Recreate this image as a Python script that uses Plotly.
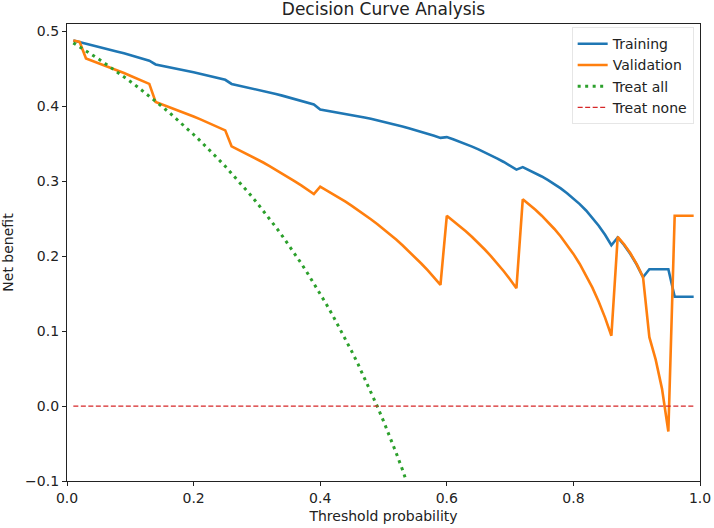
import plotly.graph_objects as go

thresholds = [round(0.01 * i, 2) for i in range(1, 100)]

training_nb = [
    0.4880, 0.4860, 0.4840, 0.4819, 0.4798, 0.4776, 0.4754, 0.4731, 0.4708, 0.4684,
    0.4660, 0.4635, 0.4610, 0.4560, 0.4544, 0.4527, 0.4510, 0.4492, 0.4474, 0.4455,
    0.4436, 0.4417, 0.4397, 0.4376, 0.4355, 0.4300, 0.4282, 0.4264, 0.4246, 0.4227,
    0.4207, 0.4187, 0.4166, 0.4144, 0.4122, 0.4099, 0.4076, 0.4052, 0.4026, 0.3960,
    0.3946, 0.3932, 0.3917, 0.3901, 0.3885, 0.3869, 0.3852, 0.3834, 0.3815, 0.3796,
    0.3776, 0.3755, 0.3733, 0.3710, 0.3687, 0.3662, 0.3636, 0.3609, 0.3580, 0.3590,
    0.3561, 0.3530, 0.3497, 0.3463, 0.3426, 0.3388, 0.3347, 0.3304, 0.3258, 0.3208,
    0.3156, 0.3190, 0.3151, 0.3110, 0.3065, 0.3016, 0.2963, 0.2906, 0.2842, 0.2773,
    0.2696, 0.2611, 0.2515, 0.2408, 0.2286, 0.2147, 0.2250, 0.2150, 0.2030, 0.1887,
    0.1720, 0.1827, 0.1827, 0.1827, 0.1827, 0.1460, 0.1460, 0.1460, 0.1460,
]

validation_nb = [
    0.4880, 0.4860, 0.4640, 0.4609, 0.4578, 0.4546, 0.4513, 0.4479, 0.4445, 0.4410,
    0.4374, 0.4337, 0.4300, 0.4060, 0.4029, 0.3998, 0.3966, 0.3934, 0.3900, 0.3866,
    0.3830, 0.3794, 0.3757, 0.3719, 0.3680, 0.3467, 0.3426, 0.3384, 0.3341, 0.3296,
    0.3251, 0.3204, 0.3155, 0.3105, 0.3054, 0.3000, 0.2946, 0.2889, 0.2831, 0.2930,
    0.2882, 0.2832, 0.2781, 0.2728, 0.2672, 0.2615, 0.2556, 0.2494, 0.2430, 0.2363,
    0.2294, 0.2222, 0.2146, 0.2068, 0.1986, 0.1900, 0.1810, 0.1716, 0.1617, 0.2540,
    0.2475, 0.2406, 0.2333, 0.2257, 0.2176, 0.2090, 0.1999, 0.1903, 0.1800, 0.1690,
    0.1573, 0.2760, 0.2693, 0.2620, 0.2541, 0.2456, 0.2364, 0.2263, 0.2153, 0.2031,
    0.1897, 0.1748, 0.1581, 0.1394, 0.1181, 0.0939, 0.2260, 0.2159, 0.2039, 0.1895,
    0.1720, 0.0920, 0.0620, 0.0230, -0.0340, 0.2540, 0.2540, 0.2540, 0.2540,
]

treat_all_t = [round(0.01 * i, 2) for i in range(1, 56)]
treat_all_nb = [
    0.4848, 0.4796, 0.4742, 0.4688, 0.4632, 0.4574, 0.4516, 0.4457, 0.4396, 0.4333,
    0.4270, 0.4205, 0.4138, 0.4070, 0.4000, 0.3929, 0.3855, 0.3780, 0.3704, 0.3625,
    0.3544, 0.3462, 0.3377, 0.3289, 0.3200, 0.3108, 0.3014, 0.2917, 0.2817, 0.2714,
    0.2609, 0.2500, 0.2388, 0.2273, 0.2154, 0.2031, 0.1905, 0.1774, 0.1639, 0.1500,
    0.1356, 0.1207, 0.1053, 0.0893, 0.0727, 0.0556, 0.0377, 0.0192, 0.0000, -0.0200,
    -0.0408, -0.0625, -0.0851, -0.1087, -0.1333,
]

treat_none_nb = [0.0] * len(thresholds)

x_ticks = [0.0, 0.2, 0.4, 0.6, 0.8, 1.0]
y_ticks = [-0.1, 0.0, 0.1, 0.2, 0.3, 0.4, 0.5]

fig = go.Figure()
fig.add_trace(go.Scatter(x=thresholds, y=training_nb, mode="lines", name="Training",
                         line=dict(color="#1f77b4", width=2.6)))
fig.add_trace(go.Scatter(x=thresholds, y=validation_nb, mode="lines", name="Validation",
                         line=dict(color="#ff7f0e", width=2.6)))
fig.add_trace(go.Scatter(x=treat_all_t, y=treat_all_nb, mode="lines", name="Treat all",
                         line=dict(color="#2ca02c", width=3, dash="3px,4.5px")))
fig.add_trace(go.Scatter(x=thresholds, y=treat_none_nb, mode="lines", name="Treat none",
                         line=dict(color="#d62728", width=1.3, dash="5px,2.5px")))

axis_common = dict(
    showline=True, linecolor="#222", linewidth=1.2, mirror=True,
    ticks="outside", ticklen=4, tickcolor="#222", tickwidth=1,
    showgrid=False, zeroline=False, automargin=False,
    tickfont=dict(family="DejaVu Sans", size=14, color="#222"),
)

fig.update_layout(
    width=714, height=528,
    margin=dict(l=67, r=14, t=24, b=47),
    paper_bgcolor="white", plot_bgcolor="white",
    title=dict(text="Decision Curve Analysis", x=0.5, xref="paper", xanchor="center",
               y=0.982, yanchor="middle",
               font=dict(family="DejaVu Sans", size=17, color="#222")),
    xaxis=dict(range=[0, 1], tickvals=x_ticks, tickformat=".1f",
               title=dict(text="Threshold probability", standoff=6,
                          font=dict(family="DejaVu Sans", size=14, color="#222")),
               **axis_common),
    yaxis=dict(range=[-0.1, 0.51], tickvals=y_ticks, tickformat=".1f",
               title=dict(text="Net benefit", standoff=8,
                          font=dict(family="DejaVu Sans", size=14, color="#222")),
               **axis_common),
    legend=dict(x=0.99, y=0.993, xanchor="right", yanchor="top",
                bgcolor="rgba(255,255,255,0.8)", bordercolor="#e6e6e6", borderwidth=1,
                font=dict(family="DejaVu Sans", size=14, color="#222"),
                tracegroupgap=0),
    showlegend=True,
)

fig.write_html("out.html")
